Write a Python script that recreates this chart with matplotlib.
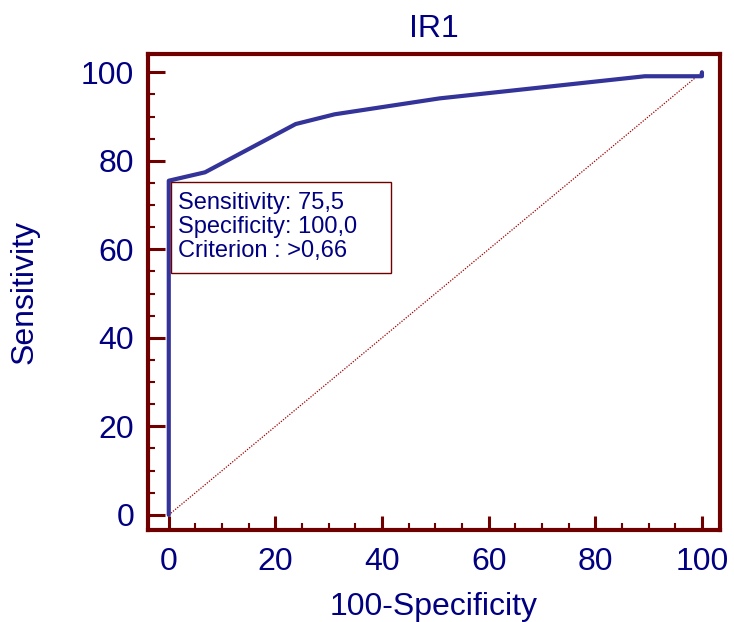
import matplotlib.pyplot as plt
from matplotlib.patches import Rectangle
from matplotlib.ticker import MultipleLocator

# ROC curve points (100-Specificity, Sensitivity)
fpr = [0, 0, 6.8, 23.8, 31.1, 50.8, 89.3, 100, 100]
tpr = [0, 75.5, 77.4, 88.3, 90.5, 94.1, 99.1, 99.1, 100]
diag = [0, 100]
box_lines = ["Sensitivity: 75,5", "Specificity: 100,0", "Criterion : >0,66"]

frame = '#700000'
navy = '#000080'
curve = '#333399'

plt.rcParams['font.family'] = ['Liberation Sans', 'DejaVu Sans']

fig = plt.figure(figsize=(7.34, 6.22), dpi=100)
ax = fig.add_axes([0.2016, 0.148, 0.7794, 0.765])

ax.plot(diag, diag, color='#a00000', lw=0.9, ls=(0, (1, 1.2)))
ax.plot(fpr, tpr, color=curve, lw=3, solid_capstyle='round', solid_joinstyle='round')

ax.set_xlim(-3.9, 103.4)
ax.set_ylim(-3.4, 104.1)
ax.xaxis.set_major_locator(MultipleLocator(20))
ax.xaxis.set_minor_locator(MultipleLocator(5))
ax.yaxis.set_major_locator(MultipleLocator(20))
ax.yaxis.set_minor_locator(MultipleLocator(5))

for s in ax.spines.values():
    s.set_color(frame)
    s.set_linewidth(3)

ax.tick_params(which='major', direction='in', length=10, width=2.2, color=frame,
               labelcolor=navy, labelsize=23, pad=12)
ax.tick_params(which='minor', direction='in', length=5, width=1.5, color=frame)
ax.tick_params(axis='y', which='major', length=12, pad=10)

ax.set_title('IR1', color=navy, fontsize=23, pad=12)
ax.set_xlabel('100-Specificity', color=navy, fontsize=23, labelpad=11)
ax.set_ylabel('Sensitivity', color=navy, fontsize=23, labelpad=30)

# criterion box
ax.add_patch(Rectangle((0.4, 54.6), 41.2, 20.6, fc='white', ec=frame, lw=1, zorder=3))
ax.text(1.8, 65, "\n".join(box_lines), color=navy, fontsize=17, va='center', ha='left',
        linespacing=1.1, zorder=4)

fig.savefig('out.png', dpi=100)
